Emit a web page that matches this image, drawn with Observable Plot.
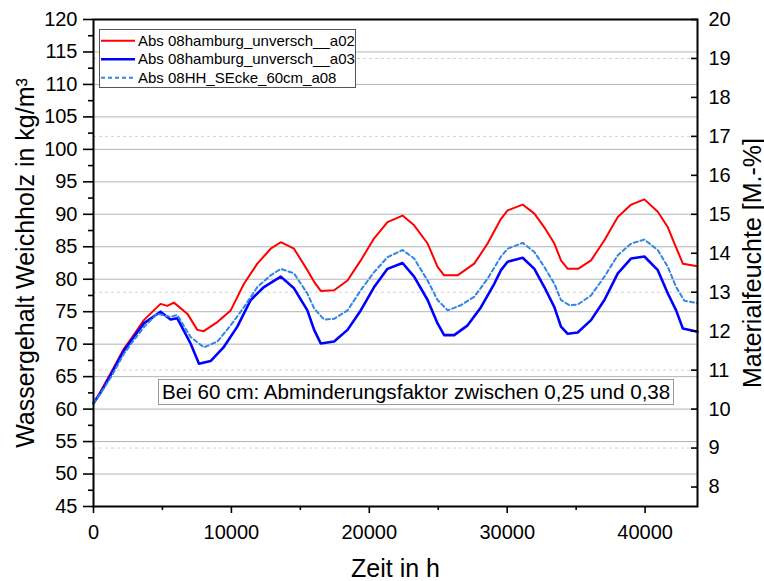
<!DOCTYPE html>
<html>
<head>
<meta charset="utf-8">
<script src="https://cdn.jsdelivr.net/npm/d3@7"></script>
<script src="https://cdn.jsdelivr.net/npm/@observablehq/plot@0.6"></script>
<style>
  html, body { margin: 0; padding: 0; background: white; }
  #chart { width: 764px; height: 581px; }
</style>
</head>
<body>
<div id="chart"></div>
<script>
// ---- Data ----
const seriesNames = ["Abs 08hamburg_unversch__a02", "Abs 08hamburg_unversch__a03", "Abs 08HH_SEcke_60cm_a08"];

const redT = [0,508,1234,2200,2810,3650,4860,5350,5830,6800,7530,7990,8980,9950,10910,11880,12850,13580,14540,15510,16000,16480,17450,18420,19380,20350,21320,22410,23250,24230,24950,25430,26400,27610,28580,29550,30030,31120,31970,32690,33420,33900,34390,35140,36080,37050,38020,38990,39950,40920,41650,42130,42740,43800];
const redV = [60.9,62.7,65.5,69.3,71.1,73.7,76.2,75.9,76.4,74.7,72.2,72.0,73.4,75.2,79.3,82.4,84.7,85.7,84.7,81.4,79.6,78.2,78.3,79.8,82.9,86.3,88.8,89.8,88.3,85.5,81.9,80.6,80.6,82.4,85.5,89.3,90.6,91.5,90.1,88.0,85.5,82.9,81.6,81.6,82.9,86.0,89.6,91.5,92.3,90.4,88.0,85.5,82.4,82.0];

const blueT = [0,508,1234,2200,2810,3650,4860,5590,6070,7040,7650,8490,9460,10430,11400,12360,13580,14540,15510,16000,16480,17450,18420,19380,20350,21320,22410,23250,24230,24950,25430,26160,27130,28100,29060,29550,30030,31120,31970,32690,33420,33900,34390,35110,36080,37050,38020,38990,39950,40920,41650,42250,42740,43800];
const blueV = [60.9,62.5,65.2,69.0,70.8,73.2,75.0,73.8,74.0,70.1,67.0,67.4,69.6,72.7,76.8,78.8,80.4,78.6,75.2,72.2,70.1,70.4,72.2,75.2,78.8,81.6,82.5,80.4,76.8,73.2,71.4,71.4,72.9,75.7,79.3,81.4,82.7,83.3,81.6,78.8,75.7,72.7,71.6,71.8,73.7,76.8,80.9,83.2,83.5,81.4,77.8,75.2,72.4,71.9];

const dashT = [0,508,1234,2200,2810,3650,4620,5590,6070,7040,8010,8980,9950,10910,11880,12850,13580,14540,15510,16000,16720,17450,18420,19380,20350,21320,22410,23250,24230,24950,25680,26640,27610,28580,29550,30030,31120,31970,32690,33420,33900,34510,35110,36080,37050,38020,38990,39950,40920,41650,42250,42850,43800];
const dashV = [60.9,62.4,64.8,68.5,70.3,72.6,74.7,74.2,74.5,71.1,69.5,70.4,72.9,75.7,78.8,80.6,81.6,80.9,77.8,75.5,73.8,73.9,75.2,78.3,81.1,83.4,84.5,83.2,79.8,76.8,75.2,76.0,77.3,80.1,83.5,84.7,85.6,84.2,81.9,79.3,76.8,76.0,76.1,77.5,80.4,83.7,85.5,86.1,84.5,81.9,78.8,76.7,76.3];

// ---- Tick labels / axes ----
const xMajor = [0, 10000, 20000, 30000, 40000];
const xMinor = [5000, 15000, 25000, 35000];
const yLeftMajor = [45,50,55,60,65,70,75,80,85,90,95,100,105,110,115,120];
const yLeftMinor = [47.5,52.5,57.5,62.5,67.5,72.5,77.5,82.5,87.5,92.5,97.5,102.5,107.5,112.5,117.5];
const pctTicks = [8,9,10,11,12,13,14,15,16,17,18,19,20];
const pctDashedGrid = [9,11,13,15,17,19];
const density = 600; // kg/m³: Materialfeuchte [%] = Wassergehalt / density * 100

const xTitle = "Zeit in h";
const yTitle = "Wassergehalt Weichholz in kg/m³";
const y2Title = "Materialfeuchte [M.-%]";
const note = "Bei 60 cm: Abminderungsfaktor zwischen 0,25 und 0,38";

const toY = p => p * density / 100;
const mk = (T, V) => T.map((t, i) => ({t, v: V[i]}));
const red = mk(redT, redV), blue = mk(blueT, blueV), dash = mk(dashT, dashV);

const FONT = "'Liberation Sans', Arial, Helvetica, sans-serif";
const colors = ["#ff0000", "#0000ff", "#3185e4"];

const chart = Plot.plot({
  width: 764,
  height: 581,
  marginLeft: 93,
  marginRight: 67,
  marginTop: 19,
  marginBottom: 75,
  style: {fontFamily: FONT, background: "white", color: "black"},
  x: {domain: [0, 43800]},
  y: {domain: [45, 120]},
  marks: [
    Plot.ruleY(yLeftMajor.filter(v => v > 45 && v < 120), {stroke: "#b4b4b4", strokeWidth: 1}),
    Plot.ruleY(pctDashedGrid.map(toY), {stroke: "#d2d2d2", strokeWidth: 1, strokeDasharray: "3,3"}),
    Plot.line(red, {x: "t", y: "v", stroke: colors[0], strokeWidth: 2}),
    Plot.line(blue, {x: "t", y: "v", stroke: colors[1], strokeWidth: 2.6}),
    Plot.line(dash, {x: "t", y: "v", stroke: colors[2], strokeWidth: 2, strokeDasharray: "4,3"}),
    Plot.frame({stroke: "black", strokeWidth: 2}),
    Plot.axisX({ticks: xMajor, tickSize: 7, tickPadding: 11, tickFormat: d3.format("d"), fontSize: 20, label: null, strokeWidth: 1.6}),
    Plot.axisX({ticks: xMinor, tickSize: 4, tickFormat: () => "", label: null, strokeWidth: 1.6}),
    Plot.axisY({ticks: yLeftMajor, tickSize: 10, tickPadding: 6, fontSize: 20, label: null, strokeWidth: 1.6}),
    Plot.axisY({ticks: yLeftMinor, tickSize: 5, tickFormat: () => "", label: null, strokeWidth: 1.6}),
    Plot.axisY({anchor: "right", ticks: pctTicks.map(toY), tickSize: 7, dx: -7, tickFormat: () => "", label: null, strokeWidth: 1.6}),
    Plot.axisY({anchor: "right", ticks: pctTicks.map(toY), tickSize: 0, tickPadding: 11, tickFormat: d => String(Math.round(d * 100 / density)), fontSize: 20, label: null}),
    Plot.text([yTitle], {frameAnchor: "left", textAnchor: "middle", lineAnchor: "middle", rotate: -90, dx: -68, fontSize: 25}),
    Plot.text([y2Title], {frameAnchor: "right", textAnchor: "middle", lineAnchor: "middle", rotate: -90, dx: 55, fontSize: 25}),
    Plot.text([xTitle], {frameAnchor: "bottom", textAnchor: "middle", lineAnchor: "middle", dy: 62, fontSize: 25})
  ]
});

document.getElementById("chart").appendChild(chart);

// ---- Legend and annotation box ----
const svg = d3.select(chart);
const lg = svg.append("g").attr("font-family", FONT).attr("text-anchor", "start");
lg.append("rect").attr("x", 99.5).attr("y", 29.5).attr("width", 256).attr("height", 58)
  .attr("fill", "white").attr("stroke", "#555").attr("stroke-width", 1);
const lstyles = [{w: 2, d: null}, {w: 2.6, d: null}, {w: 2, d: "4,3"}];
seriesNames.forEach((name, i) => {
  const cy = 40.7 + i * 18.5;
  lg.append("line").attr("x1", 101).attr("x2", 135).attr("y1", cy).attr("y2", cy)
    .attr("stroke", colors[i]).attr("stroke-width", lstyles[i].w)
    .attr("stroke-dasharray", lstyles[i].d);
  lg.append("text").attr("x", 138).attr("y", cy).attr("dy", "0.35em")
    .attr("text-anchor", "start").attr("font-size", 15).attr("fill", "black").text(name);
});

const ag = svg.append("g").attr("font-family", FONT).attr("text-anchor", "start");
const at = ag.append("text").attr("x", 162).attr("y", 391.5).attr("dy", "0.35em")
  .attr("text-anchor", "start").attr("font-size", 20.6).attr("fill", "black").text(note);
const bb = at.node().getBBox();
ag.insert("rect", "text").attr("x", Math.round(bb.x) - 3.5).attr("y", 379.5)
  .attr("width", Math.round(bb.width) + 7).attr("height", 25)
  .attr("fill", "white").attr("stroke", "#999").attr("stroke-width", 1);
</script>
</body>
</html>
